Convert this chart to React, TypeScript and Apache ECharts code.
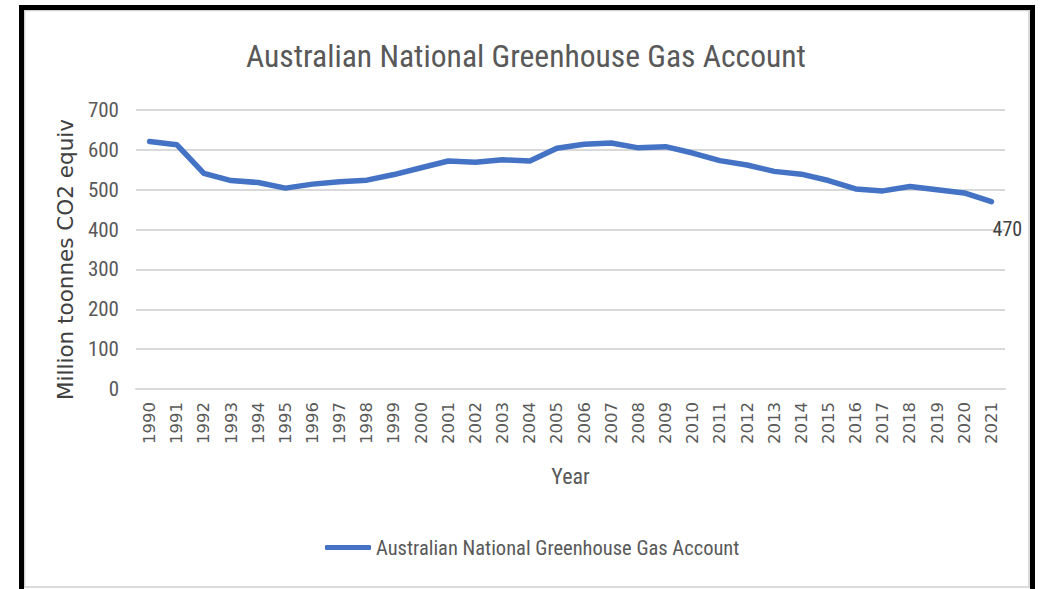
import React, { useEffect, useRef } from "react";
import * as echarts from "echarts";

const years: string[] = [
  "1990", "1991", "1992", "1993", "1994", "1995", "1996", "1997", "1998", "1999",
  "2000", "2001", "2002", "2003", "2004", "2005", "2006", "2007", "2008", "2009",
  "2010", "2011", "2012", "2013", "2014", "2015", "2016", "2017", "2018", "2019",
  "2020", "2021",
];

const emissions: number[] = [
  621, 613, 541, 523, 518, 504, 514, 520, 524, 538,
  555, 572, 569, 575, 572, 604, 614, 617, 605, 608,
  592, 573, 562, 546, 539, 523, 502, 497, 508, 500,
  492, 470,
];

const yTicks: number[] = [0, 100, 200, 300, 400, 500, 600, 700];

const seriesName = "Australian National Greenhouse Gas Account";
const titleText = "Australian National Greenhouse Gas Account";
const yName = "Million toonnes CO2 equiv";
const xName = "Year";

const NARROW = "'Roboto Condensed', 'Liberation Sans Narrow', 'Liberation Sans', sans-serif";
const WIDE = "'DejaVu Sans', 'Noto Sans', sans-serif";

export default function App() {
  const ref = useRef<HTMLDivElement>(null);

  useEffect(() => {
    if (!ref.current) return;
    const chart = echarts.init(ref.current, undefined, { renderer: "svg" });
    const lastIdx = emissions.length - 1;
    chart.setOption({
      animation: false,
      backgroundColor: "#ffffff",
      title: {
        text: titleText,
        left: 246,
        top: 40,
        padding: 0,
        textStyle: { fontFamily: NARROW, fontSize: 31.6, fontWeight: "normal", color: "#595959" },
      },
      legend: {
        left: 325,
        top: 537,
        padding: 0,
        itemWidth: 46,
        itemHeight: 5,
        icon: "roundRect",
        textStyle: { fontFamily: NARROW, fontSize: 20.5, color: "#595959" },
        data: [seriesName],
      },
      grid: { left: 136, right: 35, top: 110, height: 279, containLabel: false },
      xAxis: {
        type: "category",
        data: years,
        boundaryGap: true,
        name: xName,
        nameLocation: "middle",
        nameGap: 76,
        nameTextStyle: { fontFamily: NARROW, fontSize: 22, color: "#595959" },
        axisLine: { lineStyle: { color: "#d9d9d9", width: 2 } },
        axisTick: { show: false },
        axisLabel: {
          rotate: 90,
          interval: 0,
          margin: 13,
          fontFamily: WIDE,
          fontSize: 16.5,
          color: "#595959",
        },
      },
      yAxis: {
        type: "value",
        min: yTicks[0],
        max: yTicks[yTicks.length - 1],
        interval: 100,
        name: yName,
        nameLocation: "middle",
        nameGap: 55,
        nameTextStyle: { fontFamily: WIDE, fontSize: 21.5, color: "#404040", padding: [0, 20, 0, 0] },
        axisLine: { show: false },
        axisTick: { show: false },
        splitLine: { lineStyle: { color: "#d9d9d9", width: 2 } },
        axisLabel: { margin: 17, fontFamily: NARROW, fontSize: 21, color: "#595959" },
      },
      series: [
        {
          name: seriesName,
          type: "line",
          data: emissions.map((v, i) =>
            i === lastIdx
              ? {
                  value: v,
                  label: {
                    show: true,
                    position: "bottom",
                    offset: [16, 12],
                    fontFamily: NARROW,
                    fontSize: 20,
                    color: "#404040",
                  },
                }
              : v
          ),
          symbol: "circle",
          symbolSize: 0,
          showSymbol: true,
          smooth: false,
          color: "#4472c4",
          lineStyle: { color: "#4472c4", width: 5.5, cap: "round", join: "round" },
        },
      ],
      graphic: [
        {
          type: "rect",
          silent: true,
          shape: { x: 24.5, y: 10.5, width: 1004.5, height: 576.5 },
          style: { fill: "none", stroke: "#d0d0d0", lineWidth: 1.5 },
          z: 10,
        },
        {
          type: "rect",
          silent: true,
          shape: { x: 21.5, y: 7.5, width: 1011, height: 620 },
          style: { fill: "none", stroke: "#000000", lineWidth: 5 },
          z: 11,
        },
      ],
    });
    return () => chart.dispose();
  }, []);

  return (
    <div
      ref={ref}
      style={{ position: "fixed", left: 0, top: 0, width: 1040, height: 589 }}
    />
  );
}
